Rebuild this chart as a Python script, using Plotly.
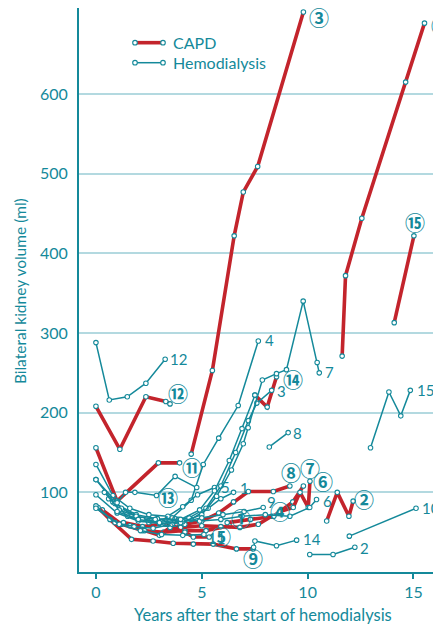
import plotly.graph_objects as go

TEAL = "#14899a"
RED = "#c3242c"
GRID = "#b3d9e0"

# ---------------- Hemodialysis (teal, plain labels) ----------------
hd1_x = [0, 0.9, 1.8, 2.7, 3.6, 4.5, 5.3, 5.9, 6.5]
hd1_y = [83, 62, 57, 55, 60, 66, 80, 92, 100]
hd2_x = [10.1, 11.2, 12.23]
hd2_y = [22, 22, 31]
hd3_x = [0.6, 1.5, 2.5, 3.5, 4.4, 5.2, 5.9, 6.6, 7.2, 7.6, 8.3]
hd3_y = [92, 70, 62, 64, 68, 80, 108, 150, 190, 212, 228]
hd4_x = [0.8, 1.7, 2.6, 3.6, 4.5, 5.07, 5.8, 6.72, 7.67]
hd4_y = [88, 72, 64, 68, 90, 135, 168, 209, 290]
hd5_x = [0, 0.8, 1.6, 2.5, 3.4, 4.1, 4.8, 5.6]
hd5_y = [135, 96, 80, 72, 70, 82, 97, 106]
hd6_x = [0, 0.9, 1.9, 2.9, 3.9, 4.9, 5.9, 6.9, 8.0, 9.16, 10.1, 10.42]
hd6_y = [116, 86, 72, 67, 66, 64, 66, 70, 72, 70, 81, 91]
hd7_x = [1.2, 2.2, 3.2, 4.1, 5.0, 5.7, 6.4, 6.96, 7.19, 7.86, 8.53, 9.0, 9.79, 10.45, 10.55]
hd7_y = [80, 66, 62, 63, 72, 95, 128, 161, 181, 241, 249, 254, 340, 263, 250]
hd8_x = [8.19, 9.08]
hd8_y = [157, 175]
hd9_x = [0, 1.0, 2.0, 3.0, 4.0, 5.0, 6.0, 7.0, 7.9]
hd9_y = [97, 74, 64, 61, 62, 68, 72, 76, 81]
hd10_x = [11.97, 15.12]
hd10_y = [45, 80]
hd11_x = [0, 1.1, 2.1, 3.1, 4.1, 5.1]
hd11_y = [80, 60, 52, 47, 46, 47]
hd12_x = [0, 0.63, 1.48, 2.36, 3.27]
hd12_y = [288, 216, 220, 237, 267]
hd13_x = [0.4, 1.1, 1.9, 2.8]
hd13_y = [100, 78, 70, 66]
hd14_x = [7.45, 7.51, 8.53, 9.48]
hd14_y = [31, 39, 33, 40]
hd15_x = [12.97, 13.84, 14.4, 14.85]
hd15_y = [156, 226, 196, 228]

# hemodialysis phases of CAPD patients (teal, no plain label)
c13_hd_x = [0, 1.0, 1.4, 1.84, 2.86, 3.74, 4.76]
c13_hd_y = [116, 87, 100, 100, 96, 120, 106]
c14_hd_x = [1.0, 2.0, 3.0, 4.0, 4.9, 5.6, 6.3, 6.9, 7.51]
c14_hd_y = [76, 66, 62, 66, 78, 102, 140, 180, 222]

# ---------------- CAPD (red, circled labels) ----------------
c1_x = [0.3, 1.2, 2.2, 3.2, 4.2, 5.2, 6.3]
c1_y = [78, 60, 52, 50, 52, 52, 58]
c2_x = [10.9, 11.4, 11.95, 12.15]
c2_y = [64, 100, 70, 89]
c3_x = [4.5, 5.5, 6.53, 6.96, 7.64, 9.8]
c3_y = [148, 253, 422, 477, 509, 703]
c4_x = [1.3, 2.2, 3.1, 4.0, 5.0, 5.9, 6.8, 7.67, 8.3]
c4_y = [62, 57, 60, 56, 58, 57, 56, 60, 70]
c5_x = [1.6, 2.3, 3.0, 3.5, 4.2, 4.6, 5.35]
c5_y = [58, 52, 46, 56, 50, 44, 44]
c6_x = [6.2, 7.3, 8.4, 9.3, 9.8]
c6_y = [62, 66, 70, 88, 108]
c7_x = [8.69, 9.32, 9.64, 10.03, 10.11]
c7_y = [76, 81, 100, 81, 114]
c8_x = [4.2, 5.0, 5.8, 6.5, 7.2, 8.38, 9.16]
c8_y = [60, 64, 74, 88, 101, 101, 108]
c9_x = [0.1, 0.66, 1.68, 2.7, 3.65, 4.6, 5.54, 6.64, 7.43]
c9_y = [81, 66, 41, 39, 36, 35, 35, 29, 29]
c10_x = [11.63, 11.79, 12.56, 14.63, 15.52]
c10_y = [271, 372, 444, 615, 689]
c11_x = [0, 1.0, 2.95, 3.95]
c11_y = [156, 89, 137, 137]
c12_x = [0, 1.13, 2.36, 3.3, 3.5]
c12_y = [208, 154, 220, 214, 211]
c14_x = [7.51, 8.09, 8.53]
c14_y = [222, 207, 245]
c15_x = [14.09, 15.02]
c15_y = [313, 422]

x_ticks = [0, 5, 10, 15]
y_ticks = [100, 200, 300, 400, 500, 600]

# (x, y, label text, label x-shift px, label y-shift px)
hd_series = [
    (hd1_x, hd1_y, "1", 4, 4), (hd2_x, hd2_y, "2", 3, -1), (hd3_x, hd3_y, "3", 3, -1),
    (hd4_x, hd4_y, "4", 5, 1), (hd5_x, hd5_y, "5", 5, 1), (hd6_x, hd6_y, "6", 4, -1),
    (hd7_x, hd7_y, "7", 4, 1), (hd8_x, hd8_y, "8", 3, 0), (hd9_x, hd9_y, "9", 2, 5),
    (hd10_x, hd10_y, "10", 4, 0), (hd11_x, hd11_y, "11", 2, -3), (hd12_x, hd12_y, "12", 3, 0),
    (hd13_x, hd13_y, "13", 5, -2), (hd14_x, hd14_y, "14", 4, 1), (hd15_x, hd15_y, "15", 5, 0),
    (c13_hd_x, c13_hd_y, None, 0, 0), (c14_hd_x, c14_hd_y, None, 0, 0),
]
capd_series = [
    (c1_x, c1_y, "①", 12, 7), (c2_x, c2_y, "②", 11, 2), (c3_x, c3_y, "③", 16, -6),
    (c4_x, c4_y, "④", 8, 5), (c5_x, c5_y, "⑤", 12, 0), (c6_x, c6_y, "⑥", 20, 4),
    (c7_x, c7_y, "⑦", 0, 13), (c8_x, c8_y, "⑧", 1, 13), (c9_x, c9_y, "⑨", 0, -10),
    (c10_x, c10_y, "⑩", 17, -2), (c11_x, c11_y, "⑪", 12, -5), (c12_x, c12_y, "⑫", 8, 10),
    (c14_x, c14_y, "⑭", 16, -3), (c15_x, c15_y, "⑮", 1, 13),
]

fig = go.Figure()
marker = dict(symbol="circle", size=4.5, color="white", line=dict(color=TEAL, width=1.1))

for xs, ys, lab, dx, dy in capd_series:
    fig.add_trace(go.Scatter(x=xs, y=ys, mode="lines+markers",
                             line=dict(color=RED, width=3.6), marker=marker,
                             showlegend=False, hoverinfo="skip"))
for xs, ys, lab, dx, dy in hd_series:
    fig.add_trace(go.Scatter(x=xs, y=ys, mode="lines+markers",
                             line=dict(color=TEAL, width=1.5), marker=marker,
                             showlegend=False, hoverinfo="skip"))

CIRC_FONT = dict(family="Noto Sans CJK JP", size=20, color=TEAL)
annotations = []
for xs, ys, lab, dx, dy in hd_series:
    if lab is None:
        continue
    annotations.append(dict(x=xs[-1], y=ys[-1], xref="x", yref="y", text=lab,
                            showarrow=False, xanchor="left", yanchor="middle",
                            xshift=dx, yshift=dy,
                            font=dict(family="Lato", size=15, color=TEAL)))
for xs, ys, lab, dx, dy in capd_series:
    annotations.append(dict(x=xs[-1], y=ys[-1], xref="x", yref="y", text="<b>" + lab + "</b>",
                            showarrow=False, xanchor="center", yanchor="middle",
                            xshift=dx, yshift=dy, font=CIRC_FONT))
# circled 13 sits beside its hemodialysis curve
annotations.append(dict(x=c13_hd_x[4], y=c13_hd_y[4], xref="x", yref="y", text="<b>⑬</b>",
                        showarrow=False, xanchor="center", yanchor="middle",
                        xshift=12, yshift=-2, font=CIRC_FONT))

# axis titles
annotations.append(dict(x=-0.163, y=0.498, xref="paper", yref="paper",
                        text="Bilateral kidney volume (ml)", textangle=-90,
                        showarrow=False, xanchor="center", yanchor="middle",
                        font=dict(family="Lato", size=15.5, color=TEAL)))
annotations.append(dict(x=0.508, y=-0.076, xref="paper", yref="paper",
                        text="Years after the start of hemodialysis",
                        showarrow=False, xanchor="center", yanchor="middle",
                        font=dict(family="Lato", size=16.5, color=TEAL)))
# legend text
annotations.append(dict(x=0.254, y=0.9385, xref="paper", yref="paper", text="CAPD",
                        showarrow=False, xanchor="left", yanchor="middle",
                        font=dict(family="Lato", size=16, color=TEAL)))
annotations.append(dict(x=0.254, y=0.903, xref="paper", yref="paper", text="Hemodialysis",
                        showarrow=False, xanchor="left", yanchor="middle",
                        font=dict(family="Lato", size=16, color=TEAL)))

shapes = []
for yy, col, w in [(0.9385, RED, 3.6), (0.903, TEAL, 1.5)]:
    shapes.append(dict(type="line", xref="paper", yref="paper", x0=0.1547, x1=0.2320,
                       y0=yy, y1=yy, line=dict(color=col, width=w)))
    for xx in (0.1547, 0.2320):
        shapes.append(dict(type="circle", xref="paper", yref="paper",
                           xsizemode="pixel", ysizemode="pixel",
                           xanchor=xx, yanchor=yy, x0=-2.3, x1=2.3, y0=-2.3, y1=2.3,
                           fillcolor="white", line=dict(color=TEAL, width=1.1)))

# the page body adds an 8px offset, so the figure is sized to end at the window edge
fig.update_layout(
    width=433, height=622,
    margin=dict(l=71, r=0, t=0, b=58),
    plot_bgcolor="white", paper_bgcolor="white",
    font=dict(family="Lato", color=TEAL),
    annotations=annotations, shapes=shapes,
    xaxis=dict(range=[-0.8, 16.3], tickvals=x_ticks, showgrid=False, zeroline=False,
               showline=True, linecolor=TEAL, linewidth=2,
               ticks="outside", ticklen=5, tickwidth=1.5, tickcolor=TEAL,
               tickfont=dict(family="Lato", size=16, color=TEAL)),
    yaxis=dict(range=[0, 708], tickvals=y_ticks, showgrid=True, gridcolor=GRID, gridwidth=1.5,
               zeroline=False, showline=True, linecolor=TEAL, linewidth=2,
               ticks="", ticklabelstandoff=6,
               tickfont=dict(family="Lato", size=16, color=TEAL)),
)

fig.write_html("out.html")
